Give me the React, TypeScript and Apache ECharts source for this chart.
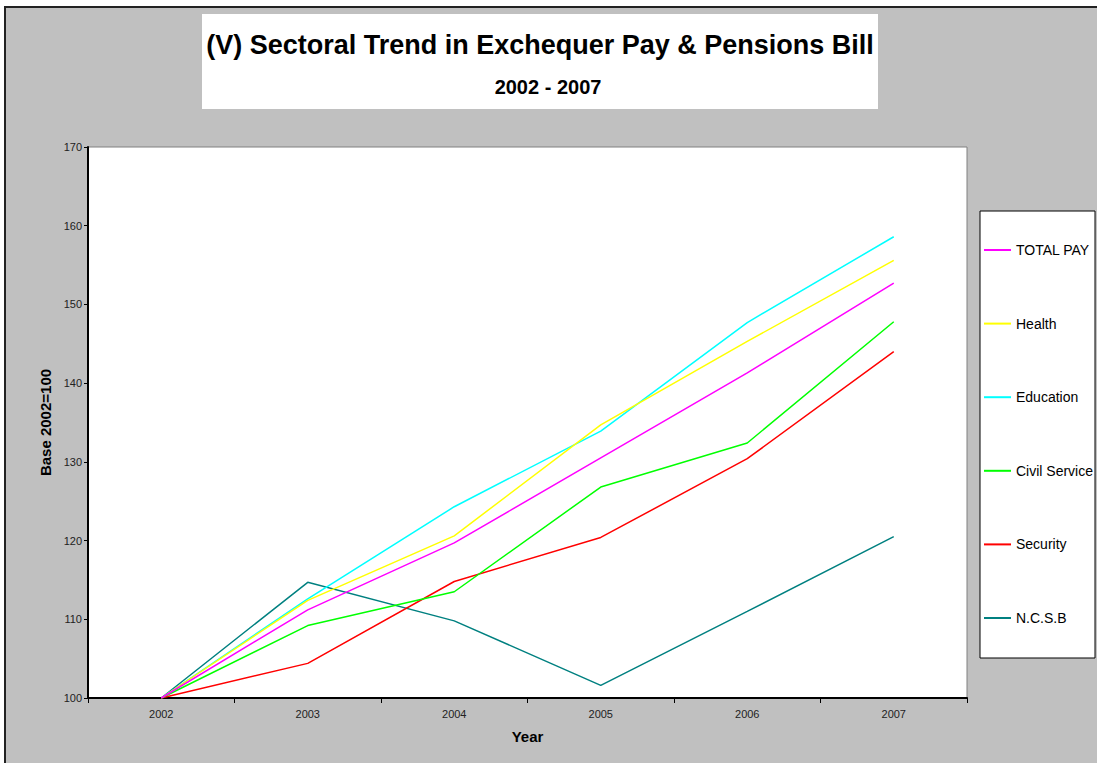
import React, { useEffect, useRef } from "react";
import * as echarts from "echarts";

const years = ["2002", "2003", "2004", "2005", "2006", "2007"];
const totalPay = [100, 111.2, 119.7, 130.5, 141.3, 152.7];
const health = [100, 112.4, 120.6, 134.7, 145.3, 155.6];
const education = [100, 112.6, 124.3, 133.9, 147.7, 158.6];
const civilService = [100, 109.2, 113.5, 126.8, 132.4, 147.8];
const security = [100, 104.4, 114.8, 120.4, 130.4, 144.0];
const ncsb = [100, 114.7, 109.8, 101.6, 111.0, 120.5];

const seriesNames = ["TOTAL PAY", "Health", "Education", "Civil Service", "Security", "N.C.S.B"];
const seriesColors = ["#FF00FF", "#FFFF00", "#00FFFF", "#00FF00", "#FF0000", "#008080"];
const seriesData = [totalPay, health, education, civilService, security, ncsb];

const FONT = "Liberation Sans, Arial, sans-serif";

export default function App() {
  const ref = useRef<HTMLDivElement>(null);
  useEffect(() => {
    document.body.style.margin = "0";
    const chart = echarts.init(ref.current!, null, { renderer: "svg" });
    chart.setOption({
      animation: false,
      backgroundColor: "#ffffff",
      graphic: [
        {
          type: "rect",
          z: -10,
          shape: { x: 5, y: 7, width: 1120, height: 800 },
          style: { fill: "#C0C0C0", stroke: "#222222", lineWidth: 2 },
          silent: true,
        },
        {
          type: "rect",
          z: -5,
          shape: { x: 202, y: 14, width: 676, height: 95 },
          style: { fill: "#ffffff" },
          silent: true,
        },
      ],
      title: [
        {
          text: "(V) Sectoral Trend in Exchequer Pay & Pensions Bill",
          left: 540,
          top: 31,
          textAlign: "center",
          padding: 0,
          textStyle: { fontFamily: FONT, fontWeight: "bold", fontSize: 27, color: "#000" },
        },
        {
          text: "2002 - 2007",
          left: 548,
          top: 77,
          textAlign: "center",
          padding: 0,
          textStyle: { fontFamily: FONT, fontWeight: "bold", fontSize: 20, color: "#000" },
        },
      ],
      legend: {
        orient: "vertical",
        left: 980,
        top: 211,
        padding: [32, 2, 33, 3],
        itemGap: 59.6,
        itemWidth: 27,
        itemHeight: 14,
        backgroundColor: "#ffffff",
        borderColor: "#000000",
        borderWidth: 1,
        borderRadius: 0,
        itemStyle: { opacity: 0 },
        data: seriesNames,
        textStyle: { fontFamily: FONT, fontSize: 14, color: "#000" },
      },
      grid: {
        left: 88,
        right: 130,
        top: 147,
        bottom: 65,
        show: true,
        backgroundColor: "#ffffff",
        borderColor: "#808080",
        borderWidth: 1,
        containLabel: false,
      },
      xAxis: {
        type: "category",
        data: years,
        boundaryGap: true,
        name: "Year",
        nameLocation: "middle",
        nameGap: 31,
        nameTextStyle: { fontFamily: FONT, fontWeight: "bold", fontSize: 15, color: "#000" },
        axisLine: { lineStyle: { color: "#000", width: 2 } },
        axisTick: { show: true, length: 5, inside: false, lineStyle: { color: "#000" } },
        axisLabel: { fontFamily: FONT, fontSize: 11, color: "#222", margin: 10 },
        splitLine: { show: false },
      },
      yAxis: {
        type: "value",
        min: 100,
        max: 170,
        interval: 10,
        name: "Base 2002=100",
        nameLocation: "middle",
        nameGap: 35,
        nameRotate: 90,
        nameTextStyle: { fontFamily: FONT, fontWeight: "bold", fontSize: 15, color: "#000" },
        axisLine: { show: true, lineStyle: { color: "#000", width: 2 } },
        axisTick: { show: true, length: 4, inside: false, lineStyle: { color: "#000" } },
        axisLabel: { fontFamily: FONT, fontSize: 11, color: "#222", margin: 6 },
        splitLine: { show: false },
      },
      series: seriesNames.map((name, i) => ({
        name,
        type: "line",
        data: seriesData[i],
        symbol: "none",
        color: seriesColors[i],
        lineStyle: { color: seriesColors[i], width: 1.5 },
        z: 10 - i,
      })),
    });
    return () => chart.dispose();
  }, []);
  return <div ref={ref} style={{ width: 1097, height: 763, position: "absolute", left: 0, top: 0 }} />;
}
